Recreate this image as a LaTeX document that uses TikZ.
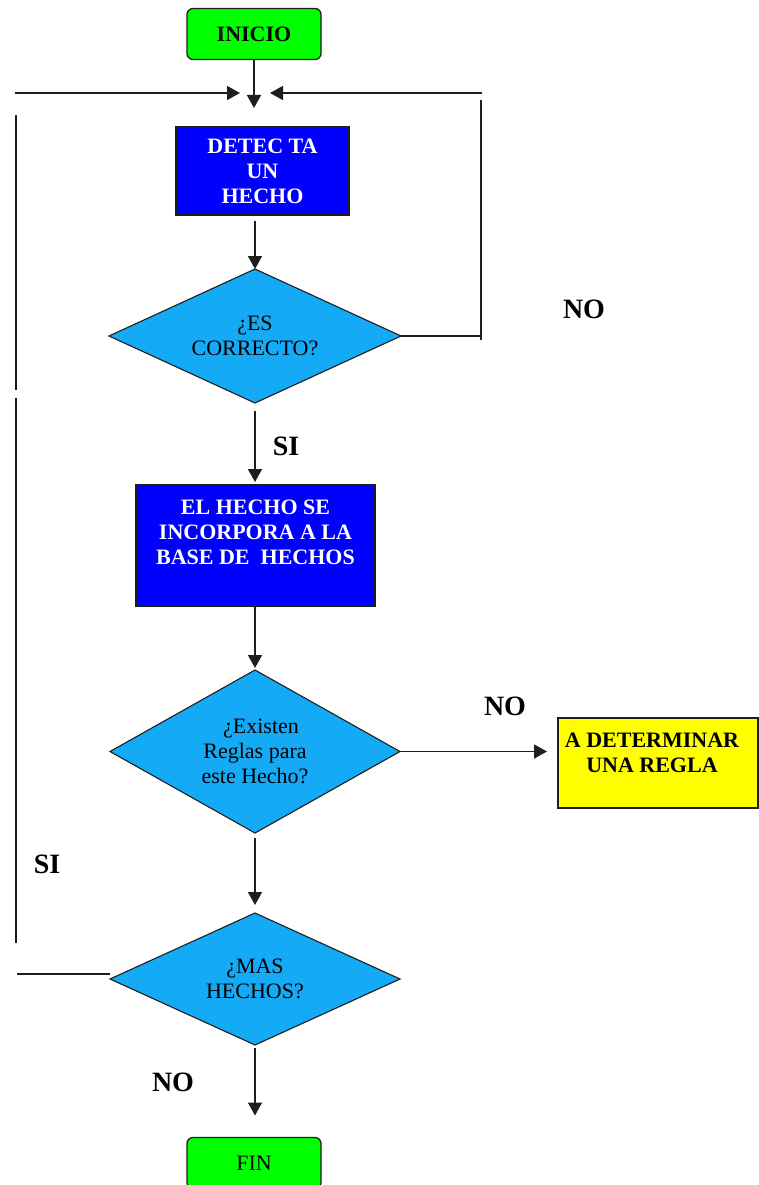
\documentclass[tikz,border=0pt]{standalone}
\usepackage{fontspec}
\setmainfont{Liberation Serif}
\usetikzlibrary{shapes.geometric,arrows.meta}

\definecolor{startgreen}{RGB}{0,255,0}
\definecolor{procblue}{RGB}{0,0,255}
\definecolor{decblue}{RGB}{20,170,245}
\definecolor{noteyellow}{RGB}{255,255,0}
\definecolor{linegray}{RGB}{30,30,30}

\tikzset{
  conn/.style={draw=linegray, line width=1.6pt},
  arr/.style={conn, -{Triangle[length=13pt,width=14pt]}},
  terminal/.style={draw=linegray, line width=1.3pt, fill=startgreen, rounded corners=6pt,
    minimum width=134pt, minimum height=51pt, inner sep=0pt, outer sep=0pt},
  process/.style={draw=linegray, line width=1.3pt, fill=procblue, inner sep=0pt, outer sep=0pt},
  decision/.style={diamond, shape aspect=2.2, draw=linegray, line width=1.1pt, fill=decblue,
    inner sep=0pt, outer sep=0pt, align=center,
    font=\fontsize{22}{25}\selectfont},
  note/.style={draw=linegray, line width=1.3pt, fill=noteyellow, inner sep=0pt, outer sep=0pt},
  boldtext/.style={align=center, font=\fontsize{22}{25}\selectfont\bfseries},
  answer/.style={font=\fontsize{28}{30}\selectfont\bfseries, inner sep=0pt},
}

\begin{document}
\begin{tikzpicture}[x=1pt, y=-1pt]
  \useasboundingbox (0,0) rectangle (759,1185);

  % start / end
  \node[terminal] (inicio) at (254,34) {\fontsize{22}{25}\selectfont\bfseries INICIO};
  \node[terminal] (fin) at (254,1163) {\fontsize{22}{25}\selectfont FIN};

  % process boxes
  \node[process, minimum width=173pt, minimum height=88pt, text=white, boldtext] (detecta)
    at (262.5,171) {DETEC TA\\UN\\HECHO};
  \node[process, minimum width=239pt, minimum height=121pt] (base) at (255.5,545.5) {};
  \node[boldtext, text=white, inner sep=0pt] (basetext) at (255.5,532)
    {EL HECHO SE\\INCORPORA A LA\\BASE DE \ HECHOS};

  % decisions
  \node[decision, minimum width=292pt, minimum height=134pt] (d1) at (255,336)
    {¿ES\\CORRECTO?};
  \node[decision, minimum width=290pt, minimum height=163pt] (d2) at (255,751.5)
    {\hspace*{12pt}¿Existen\\Reglas para\\este Hecho?};
  \node[decision, minimum width=290pt, minimum height=132pt] (d3) at (255,979)
    {¿MAS\\HECHOS?};

  % rule box
  \node[note, minimum width=200pt, minimum height=90pt] (regla) at (658,763) {};
  \node[boldtext, inner sep=0pt] (reglatext) at (652,753) {A DETERMINAR\\UNA REGLA};

  % loop-back coordinates
  \coordinate (merge) at (254,108);
  \coordinate (lin)   at (15,93);
  \coordinate (lend)  at (240,93);
  \coordinate (rin)   at (482,93);
  \coordinate (rend)  at (270,93);
  \coordinate (lv1)   at (16,115);
  \coordinate (lv2)   at (16,390);
  \coordinate (lv3)   at (16,398);
  \coordinate (lv4)   at (16,943);
  \coordinate (rv1)   at (481,100);
  \coordinate (rv2)   at (481,340);
  \coordinate (lh)    at (17,974);

  % main flow
  \draw[arr] (inicio) -- (merge);
  \draw[arr] (lin) -- (lend);
  \draw[arr] (rin) -- (rend);
  \draw[arr, shorten <=6pt] (d1.north |- detecta.south) -- (d1.north);
  \draw[arr, shorten <=8pt, shorten >=3pt] (d1.south) -- (d1.south |- base.north);
  \draw[arr, shorten >=2pt] (d2.north |- base.south) -- (d2.north);
  \draw[arr, shorten >=11pt] (d2.east) -- (regla.west |- d2.east);
  \draw[arr, shorten <=5pt, shorten >=8pt] (d2.south) -- (d3.north);
  \draw[arr, shorten <=3pt, shorten >=22pt] (d3.south) -- (d3.south |- fin.north);

  % NO branch of the first decision
  \draw[conn] (d1.east) -- (d1.east -| rv2);
  \draw[conn] (rv1) -- (rv2);

  % SI branch of the last decision
  \draw[conn] (d3.west |- lh) -- (lh);
  \draw[conn] (lv1) -- (lv2);
  \draw[conn] (lv3) -- (lv4);

  % answer labels
  \node[answer] (no1) at (584,309) {NO};
  \node[answer] (si1) at (286,446) {SI};
  \node[answer] (no2) at (505,706) {NO};
  \node[answer] (si2) at (47,864) {SI};
  \node[answer] (no3) at (173,1082) {NO};
\end{tikzpicture}
\end{document}
